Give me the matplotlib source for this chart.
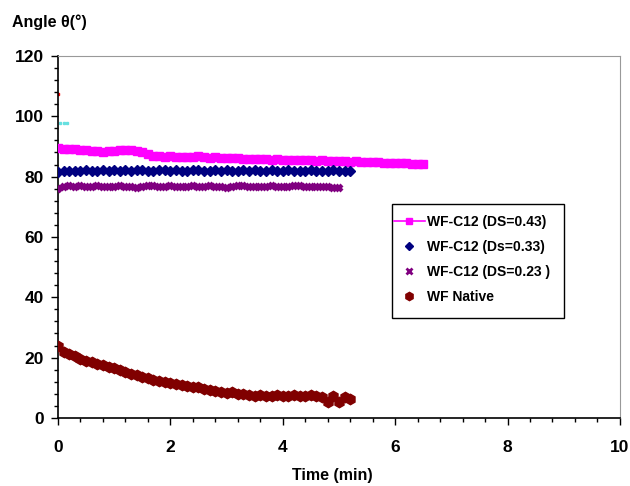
import numpy as np
import matplotlib.pyplot as plt
from matplotlib.patches import Rectangle

plt.rcParams['font.family'] = ['Liberation Sans', 'DejaVu Sans']
plt.rcParams['font.weight'] = 'bold'

# sampling interval of the contact angle measurements (min)
dt = 0.1

# WF-C12 (DS=0.43)
ds043 = [89.4, 89.2, 89.0, 89.1, 88.8, 88.7,
         88.4, 88.5, 88.3, 88.6, 88.4, 88.7, 88.8,
         88.7, 88.5, 88.1,
         87.4, 86.9, 86.8, 86.6, 86.7,
         86.5, 86.6, 86.4, 86.6, 86.7, 86.5, 86.3, 86.4, 86.2, 86.2,
         86.0, 86.1, 85.9, 85.8, 85.9, 85.7, 85.8, 85.6, 85.7, 85.6,
         85.5, 85.6, 85.4, 85.5, 85.4, 85.3, 85.4, 85.2, 85.1, 85.1,
         85.0, 84.9, 85.0, 84.8, 84.8, 84.7, 84.8, 84.6, 84.5, 84.5,
         84.4, 84.4, 84.3, 84.2, 84.2]

# WF-C12 (Ds=0.33)
ds033 = [81.6, 81.8, 81.9, 82.0, 81.8, 82.1, 82.0, 81.9, 82.2, 82.0,
         82.1, 81.9, 82.2, 82.0, 82.1, 82.3, 82.0, 81.9, 82.1, 82.2,
         82.0, 82.1, 81.9, 82.0, 82.2, 82.1, 82.0, 81.9, 82.1, 82.0,
         82.2, 82.0, 81.9, 82.1, 82.0, 82.1, 81.9, 82.0, 82.1, 82.0,
         81.9, 82.1, 82.0, 82.0, 81.9, 82.1, 82.0, 81.9, 82.0, 82.1,
         82.0, 81.9, 82.0]

# WF-C12 (DS=0.23)
ds023 = [76.0, 76.5, 76.8, 76.6, 76.9, 76.7, 76.5, 76.8, 76.6, 76.4,
         76.7, 76.9, 76.6, 76.5, 76.3, 76.6, 76.8, 76.9, 76.7, 76.5,
         76.8, 76.6, 76.4, 76.7, 76.9, 76.6, 76.5, 76.8, 76.7, 76.4,
         76.3, 76.6, 76.8, 76.9, 76.7, 76.5, 76.4, 76.6, 76.8, 76.7,
         76.5, 76.6, 76.9, 76.8, 76.6, 76.5, 76.7, 76.6, 76.4, 76.3,
         76.2]

# WF Native
native = [23.8, 22.0, 21.2, 20.4, 19.7, 19.0, 18.5, 17.9, 17.4, 16.9,
          16.4, 15.8, 15.2, 14.7, 14.1, 13.6, 13.1, 12.7, 12.3, 11.9,
          11.6, 11.3, 11.0, 10.7, 10.3, 10.1, 9.7, 9.3, 8.9, 8.6,
          8.3, 8.6, 8.0, 7.9, 7.6, 7.4, 7.5, 7.3, 7.4, 7.5,
          7.4, 7.3, 7.5, 7.4, 7.3, 7.5, 7.4, 6.8, 5.2, 7.4,
          5.4, 6.9, 6.2]

# a few isolated first readings near t=0
red_t, red_y = [0.0], [107.4]
cyan_t, cyan_y = [0.04, 0.1, 0.16], [97.6, 97.8, 97.7]


def times(vals):
    return np.arange(len(vals)) * dt


fig = plt.figure(figsize=(6.3, 4.86), dpi=100)
ax = fig.add_axes([0.092, 0.14, 0.892, 0.745])

ax.plot(times(ds043), ds043, '-s', color='#ff00ff', ms=6, lw=4, zorder=3)
ax.plot(times(ds033), ds033, 'D', color='#000080', ms=5.5, ls='none', zorder=3)
ax.plot(times(ds023), ds023, 'x', color='#800080', ms=5, mew=3, ls='none', zorder=3)
ax.plot(times(native), native, 'h', color='#800000', ms=7.5, ls='none', zorder=3)
ax.plot(red_t, red_y, 's', color='red', ms=2, ls='none')
ax.plot(cyan_t, cyan_y, 's', color='#66e0e0', ms=1.5, ls='none')

ax.set_xlim(0, 10)
ax.set_ylim(0, 120)
ax.set_xticks(np.arange(0, 11, 2))
ax.set_yticks(np.arange(0, 121, 20))
ax.set_xticks(np.arange(0, 10.01, 0.4), minor=True)
ax.set_yticks(np.arange(0, 121, 4), minor=True)
ax.tick_params(axis='both', which='major', labelsize=12.5, length=5, width=1)
ax.tick_params(axis='both', which='minor', length=3, width=1)
ax.tick_params(axis='x', pad=11)
ax.tick_params(axis='y', pad=5)

for s in ['top', 'right']:
    ax.spines[s].set_color('#999999')
    ax.spines[s].set_linewidth(0.8)
for s in ['left', 'bottom']:
    ax.spines[s].set_linewidth(1.2)

fig.text(0.527, 0.006, 'Time (min)', fontsize=11.5, fontweight='bold', ha='center', va='bottom')
fig.text(0.019, 0.945, 'Angle θ(°)', fontsize=11.5, fontweight='bold', ha='left')

# legend handles: small markers, line only for the first series
lh1, = ax.plot([], [], '-s', color='#ff00ff', ms=5, lw=1.2)
lh2, = ax.plot([], [], 'D', color='#000080', ms=4, ls='none')
lh3, = ax.plot([], [], 'x', color='#800080', ms=4, mew=2, ls='none')
lh4, = ax.plot([], [], 'h', color='#800000', ms=6, ls='none')
leg = ax.legend([lh1, lh2, lh3, lh4],
                ['WF-C12 (DS=0.43)', 'WF-C12 (Ds=0.33)', 'WF-C12 (DS=0.23 )', 'WF Native'],
                loc='upper left', bbox_to_anchor=(0.598, 0.56), frameon=False,
                fontsize=10, handlelength=2.2, handletextpad=0.2,
                borderpad=0.0, borderaxespad=0.0, labelspacing=0.78)

# legend box drawn separately so the padding can differ by side
box = Rectangle((0.595, 0.276), 0.306, 0.315, transform=ax.transAxes,
                fill=True, facecolor='white', edgecolor='black', lw=1, zorder=4)
ax.add_patch(box)
leg.set_zorder(5)

fig.savefig('out.png', dpi=100)
